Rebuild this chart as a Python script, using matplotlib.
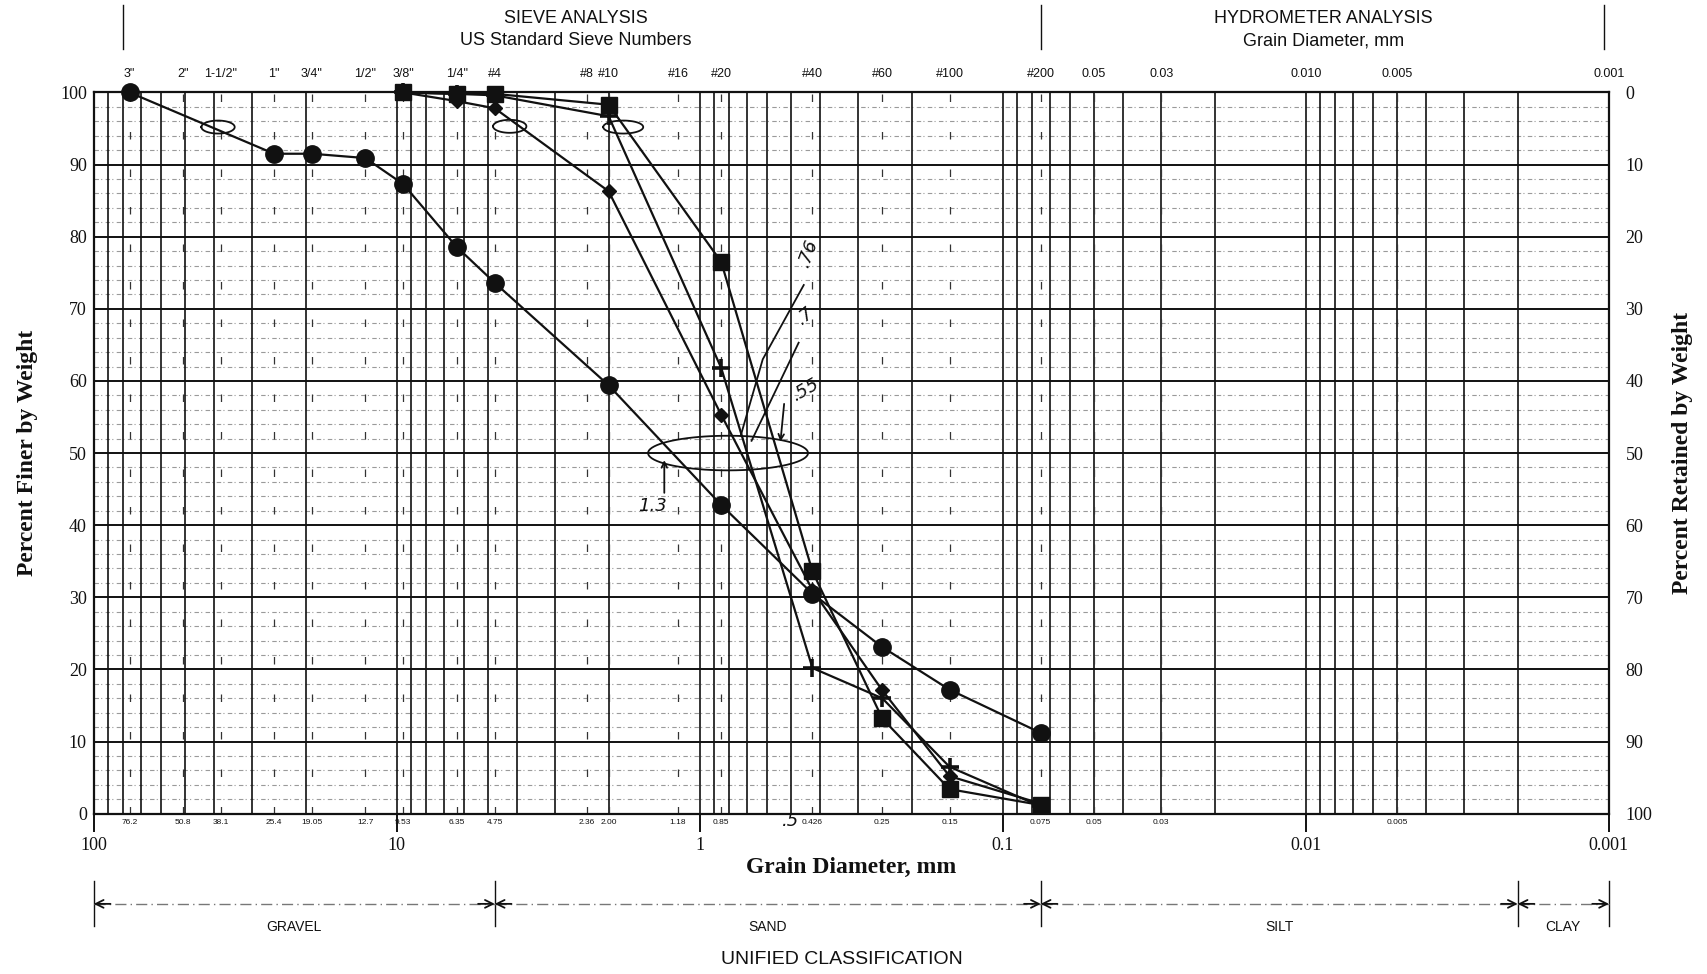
import numpy as np
import matplotlib
matplotlib.use("Agg")
import matplotlib.pyplot as plt
from matplotlib import transforms

# sieve sizes (mm) and their labels
sieve_mm = [76.2, 50.8, 38.1, 25.4, 19.05, 12.7, 9.53, 6.35, 4.75,
            2.36, 2.00, 1.18, 0.85, 0.425, 0.25, 0.15, 0.075]
sieve_top = ['3"', '2"', '1-1/2"', '1"', '3/4"', '1/2"', '3/8"', '1/4"', '#4',
             '#8', '#10', '#16', '#20', '#40', '#60', '#100', '#200']
hydro_mm = [0.05, 0.03, 0.010, 0.005, 0.001]
hydro_top = ['0.05', '0.03', '0.010', '0.005', '0.001']
bottom_mm = [76.2, 50.8, 38.1, 25.4, 19.05, 12.7, 9.53, 6.35, 4.75,
             2.36, 2.00, 1.18, 0.85, 0.425, 0.25, 0.15, 0.075, 0.05, 0.03, 0.005]
bottom_lbl = ['76.2', '50.8', '38.1', '25.4', '19.05', '12.7', '9.53', '6.35', '4.75',
              '2.36', '2.00', '1.18', '0.85', '0.426', '0.25', '0.15', '0.075',
              '0.05', '0.03', '0.005']

# four samples, percent finer
d_circle = [76.2, 25.4, 19.05, 12.7, 9.53, 6.35, 4.75, 2.00, 0.85, 0.425, 0.25, 0.15, 0.075]
p_circle = [100, 91.5, 91.5, 90.9, 87.3, 78.6, 73.6, 59.4, 42.8, 30.5, 23.1, 17.2, 11.2]
d_square = [9.53, 6.35, 4.75, 2.00, 0.85, 0.425, 0.25, 0.15, 0.075]
p_square = [100, 99.8, 99.8, 98.3, 76.5, 33.6, 13.2, 3.4, 1.2]
d_diamond = [9.53, 6.35, 4.75, 2.00, 0.85, 0.425, 0.25, 0.15, 0.075]
p_diamond = [100, 98.8, 97.8, 86.3, 55.3, 31.0, 17.1, 5.2, 1.4]
d_plus = [9.53, 6.35, 4.75, 2.00, 0.85, 0.425, 0.25, 0.15, 0.075]
p_plus = [100, 99.8, 99.6, 96.7, 61.8, 20.2, 16.0, 6.5, 1.0]

# classification boundaries (mm)
class_bounds = [100, 4.75, 0.075, 0.002, 0.001]
class_names = ['GRAVEL', 'SAND', 'SILT', 'CLAY']

ink = '#111111'
serif = 'Liberation Serif'
sans = 'Liberation Sans'

fig = plt.figure(figsize=(17.08, 9.74), dpi=100)
ax = fig.add_axes([0.0549, 0.1646, 0.8871, 0.7405])
ax.set_xscale('log')
ax.set_xlim(100, 0.001)
ax.set_ylim(0, 100)

# grid: horizontal
for v in range(0, 101, 10):
    ax.axhline(v, color=ink, lw=1.4, zorder=1)
for v in range(0, 100, 2):
    if v % 10:
        ax.axhline(v, color='#9a9a9a', lw=0.8, ls=(0, (4, 2, 1, 3)), zorder=1)

# grid: vertical log lines
for k in range(-3, 2):
    for m in range(1, 10):
        ax.axvline(m * 10.0 ** k, color=ink, lw=1.2, zorder=1)

# sieve lines, sparse dashes
for s in sieve_mm + [0.05, 0.03, 0.005]:
    ax.axvline(s, color='#333333', lw=0.9, ls=(0, (6, 24)), zorder=1)

for sp in ax.spines.values():
    sp.set_linewidth(1.6)
    sp.set_color(ink)

# data
kw = dict(color=ink, lw=1.6, zorder=3, clip_on=False)
ax.plot(d_circle, p_circle, marker='o', ms=12.5, **kw)
ax.plot(d_square, p_square, marker='s', ms=11, **kw)
ax.plot(d_diamond, p_diamond, marker='D', ms=7, **kw)
ax.plot(d_plus, p_plus, marker='+', ms=13, mew=2.6, **kw)

# ticks
ax.set_yticks(range(0, 101, 10))
ax.tick_params(axis='y', length=0, pad=5, labelsize=13, labelcolor=ink)
ax.set_xticks([100, 10, 1, 0.1, 0.01, 0.001])
ax.set_xticklabels(['100', '10', '1', '0.1', '0.01', '0.001'])
ax.minorticks_off()
ax.tick_params(axis='x', which='major', length=13, width=1.4, direction='out',
               pad=4, labelsize=13, labelcolor=ink, color=ink)
for t in ax.get_xticklabels() + ax.get_yticklabels():
    t.set_fontfamily(serif)

ax.set_ylabel('Percent Finer by Weight', fontfamily=serif, fontsize=17,
              fontweight='bold', color=ink, labelpad=16)
ax.set_xlabel('Grain Diameter, mm', fontfamily=serif, fontsize=17,
              fontweight='bold', color=ink, labelpad=2)

ax2 = ax.twinx()
ax2.set_ylim(100, 0)
ax2.set_yticks(range(0, 101, 10))
ax2.tick_params(axis='y', length=0, pad=12, labelsize=13, labelcolor=ink)
for t in ax2.get_yticklabels():
    t.set_fontfamily(serif)
ax2.set_ylabel('Percent Retained by Weight', fontfamily=serif, fontsize=17,
               fontweight='bold', color=ink, labelpad=14)
for sp in ax2.spines.values():
    sp.set_visible(False)

# header labels (x in data, y in figure fraction)
trf = transforms.blended_transform_factory(ax.transData, fig.transFigure)
for s, lbl in zip(sieve_mm + hydro_mm, sieve_top + hydro_top):
    ax.text(s, 0.924, lbl, transform=trf, ha='center', va='center',
            fontsize=9, fontfamily=sans, color=ink)
for s in [80, 0.075, 0.00104]:
    ax.plot([s, s], [0.95, 0.995], transform=trf, color=ink, lw=1.0, clip_on=False)
fig.text(0.337, 0.981, 'SIEVE ANALYSIS', ha='center', va='center',
         fontsize=13, fontfamily=sans, color=ink)
fig.text(0.337, 0.958, 'US Standard Sieve Numbers', ha='center', va='center',
         fontsize=13, fontfamily=sans, color=ink)
fig.text(0.775, 0.981, 'HYDROMETER ANALYSIS', ha='center', va='center',
         fontsize=13, fontfamily=sans, color=ink)
fig.text(0.775, 0.958, 'Grain Diameter, mm', ha='center', va='center',
         fontsize=13, fontfamily=sans, color=ink)

# small sizes under the axis
for s, lbl in zip(bottom_mm, bottom_lbl):
    ax.text(s, 0.156, lbl, transform=trf, ha='center', va='center',
            fontsize=6, fontfamily=sans, color=ink)

# unified classification bar
y_bar = 0.072
for b in class_bounds:
    ax.plot([b, b], [0.049, 0.095], transform=trf, color=ink, lw=1.0, clip_on=False)
for (a, b), name in zip(zip(class_bounds[:-1], class_bounds[1:]), class_names):
    ax.plot([a, b], [y_bar, y_bar], transform=trf, color='#777777', lw=1.0,
            ls=(0, (8, 3, 1, 3)), clip_on=False)
    for end, off in [(a, 12), (b, -12)]:
        ax.annotate('', xy=(end, y_bar), xycoords=trf,
                    xytext=(off, 0), textcoords='offset points',
                    arrowprops=dict(arrowstyle='->', color=ink, lw=1.3,
                                    shrinkA=0, shrinkB=0, mutation_scale=14))
    ax.text(np.sqrt(a * b), 0.048, name, transform=trf, ha='center', va='center',
            fontsize=10, fontfamily=sans, color=ink)
fig.text(0.493, 0.0144, 'UNIFIED CLASSIFICATION', ha='center', va='center',
         fontsize=14, fontfamily=sans, color=ink)

# hand-written marks
hand = dict(color=ink, lw=1.3, zorder=4, clip_on=False)
t = np.linspace(0, 2 * np.pi, 80)
for xc, yc, a, b in [(38.9, 95.2, 0.055, 0.9), (4.24, 95.3, 0.055, 0.9),
                     (1.79, 95.2, 0.066, 0.9), (0.807, 50.0, 0.264, 2.4)]:
    ax.plot(10 ** (np.log10(xc) + a * np.cos(t)), yc + b * np.sin(t), **hand)
ax.plot([0.733, 0.62, 0.454], [52.4, 63, 73.3], **hand)
ax.plot([0.675, 0.472], [51.7, 65.3], **hand)
ax.annotate('', xy=(0.543, 51.2), xytext=(0.526, 57.2),
            arrowprops=dict(arrowstyle='->', color=ink, lw=1.3))
ax.annotate('', xy=(1.31, 49.4), xytext=(1.31, 44.1),
            arrowprops=dict(arrowstyle='->', color=ink, lw=1.3))
hw = dict(fontsize=13, fontstyle='italic', fontfamily='DejaVu Sans', color=ink,
          ha='center', va='center', zorder=4)
ax.text(0.44, 77.8, '.76', rotation=70, **hw)
ax.text(0.447, 69.0, '.7', rotation=40, **hw)
ax.text(0.447, 58.8, '.55', rotation=30, **hw)
ax.text(1.43, 42.6, '1.3', **hw)
ax.text(0.5, -1.0, '.5', **hw)

fig.savefig('out.png', dpi=100, facecolor='white')
